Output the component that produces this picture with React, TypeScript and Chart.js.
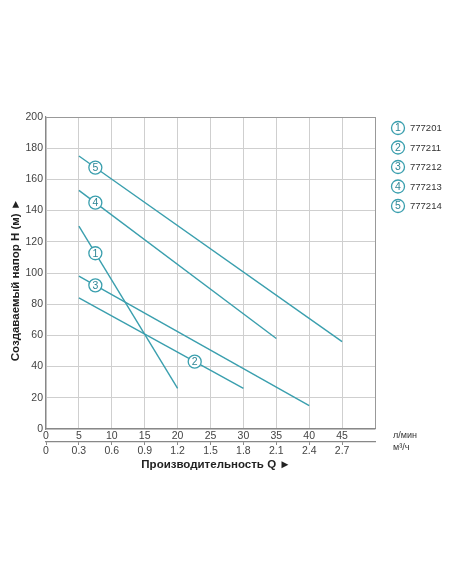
import React, { useEffect, useRef } from "react";
import { Chart, registerables } from "chart.js";

Chart.register(...registerables);

const modelNames = ["777201", "777211", "777212", "777213", "777214"];
const startQ = [5, 5, 5, 5, 5];
const endQ = [20, 30, 40, 35, 45];
const startH = [130, 84, 98, 153, 175];
const endH = [26, 26, 15, 58, 56];
const markerQ = [7.5, 22.6, 7.5, 7.5, 7.5];
const lpmTicks = ["0", "5", "10", "15", "20", "25", "30", "35", "40", "45"];
const m3hTicks = ["0", "0.3", "0.6", "0.9", "1.2", "1.5", "1.8", "2.1", "2.4", "2.7"];

const LINE = "#3a9fae";
const MARK_TXT = "#2f8696";
const FONT = "'Liberation Sans', Arial, sans-serif";

function lineAt(i: number, q: number) {
  return startH[i] + ((endH[i] - startH[i]) * (q - startQ[i])) / (endQ[i] - startQ[i]);
}

function drawMarker(ctx: any, px: number, py: number, n: number) {
  ctx.beginPath();
  ctx.arc(px, py, 6.5, 0, Math.PI * 2);
  ctx.fillStyle = "#fff";
  ctx.fill();
  ctx.lineWidth = 1.3;
  ctx.strokeStyle = LINE;
  ctx.stroke();
  ctx.fillStyle = MARK_TXT;
  ctx.font = `10.5px ${FONT}`;
  ctx.textAlign = "center";
  ctx.textBaseline = "middle";
  ctx.fillText(String(n), px, py + 0.5);
}

const decorPlugin = {
  id: "decor",
  afterDatasetsDraw(chart: any) {
    const { ctx, scales } = chart;
    const xs = scales.x;
    const ys = scales.y;
    ctx.save();
    for (let i = 0; i < modelNames.length; i++) {
      const px = xs.getPixelForValue(markerQ[i]);
      const py = ys.getPixelForValue(lineAt(i, markerQ[i]));
      drawMarker(ctx, px, py, i + 1);
    }
    ctx.restore();
  },
  afterDraw(chart: any) {
    const { ctx } = chart;
    ctx.save();
    // legend
    const legY = [128, 147.5, 167, 186.5, 206];
    for (let i = 0; i < modelNames.length; i++) {
      const cy = legY[i];
      drawMarker(ctx, 398, cy, i + 1);
      ctx.fillStyle = "#333";
      ctx.textAlign = "left";
      ctx.textBaseline = "middle";
      ctx.font = `9.5px ${FONT}`;
      ctx.fillText(modelNames[i], 410, cy + 0.5);
    }
    // units
    ctx.fillStyle = "#333";
    ctx.font = `9px ${FONT}`;
    ctx.textAlign = "left";
    ctx.textBaseline = "middle";
    ctx.fillText("л/мин", 393, 436);
    ctx.fillText("м³/ч", 393, 448);
    // x title
    ctx.font = `bold 11.5px ${FONT}`;
    ctx.fillStyle = "#222";
    ctx.textAlign = "center";
    ctx.fillText("Производительность Q ►", 216, 464.5);
    // y title
    ctx.translate(16, 280);
    ctx.rotate(-Math.PI / 2);
    ctx.fillText("Создаваемый напор H (м) ►", 0, 0);
    ctx.restore();
  },
};

export default function App() {
  const ref = useRef<HTMLCanvasElement | null>(null);
  useEffect(() => {
    if (!ref.current) return;
    const datasets = modelNames.map((name, i) => ({
      label: name,
      data: [
        { x: startQ[i], y: startH[i] },
        { x: endQ[i], y: endH[i] },
      ],
      borderColor: LINE,
      borderWidth: 1.4,
      pointRadius: 0,
      fill: false,
    }));
    const chart = new Chart(ref.current, {
      type: "line",
      data: { datasets },
      plugins: [decorPlugin],
      options: {
        animation: false,
        responsive: false,
        maintainAspectRatio: false,
        layout: { padding: { left: 0, top: 117, right: 77, bottom: 122 } },
        plugins: { legend: { display: false }, tooltip: { enabled: false } },
        scales: {
          x: {
            type: "linear",
            position: "bottom",
            min: 0,
            max: 50,
            ticks: {
              stepSize: 5,
              autoSkip: false,
              maxRotation: 0,
              padding: 1,
              color: "#444",
              font: { size: 10.5, family: FONT },
              callback: (_v: any, i: number) => lpmTicks[i] ?? "",
            },
            grid: {
              drawTicks: false,
              color: (c: any) => (c.tick && c.tick.value === 50 ? "#999" : "#cfcfcf"),
              lineWidth: 1,
            },
            border: { display: true, color: "#888", width: 1.2 },
            afterFit: (s: any) => {
              s.height = 13;
            },
          },
          x2: {
            type: "linear",
            position: "bottom",
            min: 0,
            max: 50,
            ticks: {
              stepSize: 5,
              autoSkip: false,
              maxRotation: 0,
              padding: 0,
              color: "#444",
              font: { size: 10.5, family: FONT },
              callback: (_v: any, i: number) => m3hTicks[i] ?? "",
            },
            grid: {
              drawOnChartArea: false,
              drawTicks: true,
              tickLength: 3,
              color: (c: any) => (c.tick && c.tick.value === 50 ? "rgba(0,0,0,0)" : "#888"),
            },
            border: { display: true, color: "#888", width: 1.2 },
            afterFit: (s: any) => {
              s.height = 20;
            },
          },
          y: {
            type: "linear",
            min: 0,
            max: 200,
            ticks: {
              stepSize: 20,
              padding: 3,
              color: "#444",
              font: { size: 10.5, family: FONT },
            },
            grid: {
              drawTicks: false,
              color: (c: any) => (c.tick && c.tick.value === 200 ? "#999" : "#cfcfcf"),
              lineWidth: 1,
            },
            border: { display: true, color: "#888", width: 1.2 },
            afterFit: (s: any) => {
              s.width = 46;
            },
          },
        },
      },
    });
    return () => chart.destroy();
  }, []);
  return (
    <div style={{ position: "fixed", left: 0, top: 0, width: 452, height: 584, background: "#fff" }}>
      <canvas ref={ref} width={452} height={584} style={{ width: 452, height: 584 }} />
    </div>
  );
}
